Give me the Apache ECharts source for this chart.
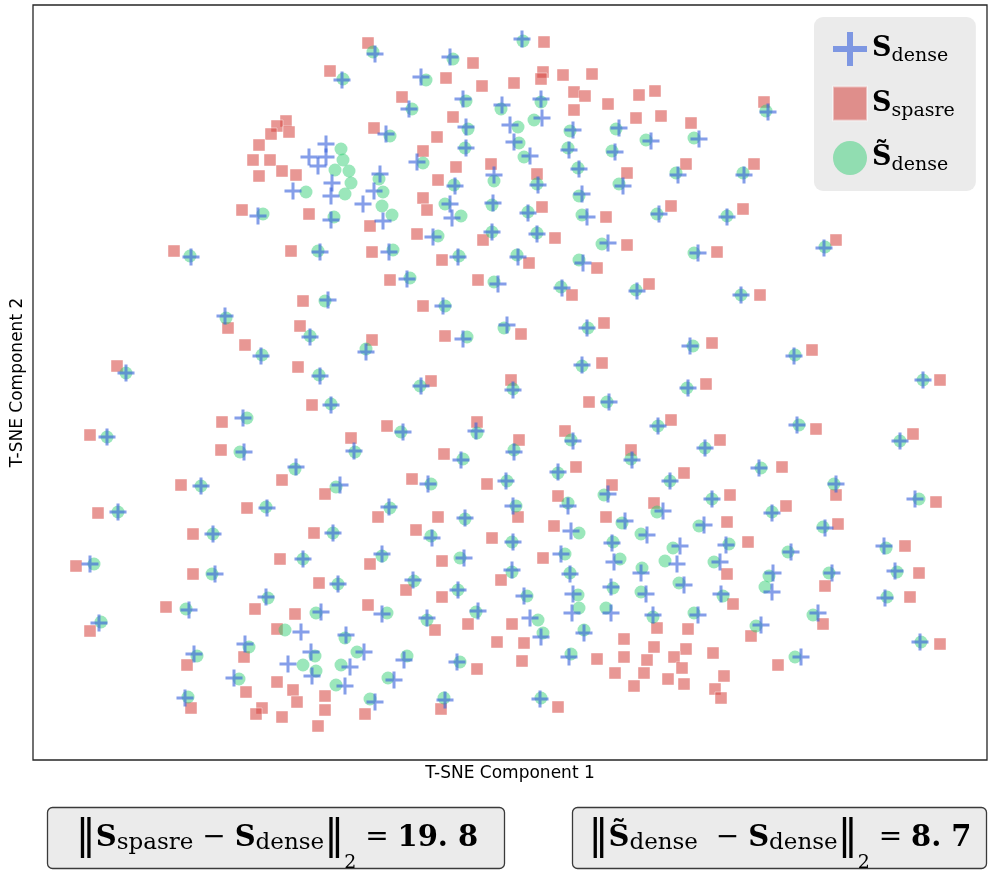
<!DOCTYPE html>
<html>
<head>
<meta charset="utf-8">
<title>T-SNE</title>
<script src="https://cdn.jsdelivr.net/npm/echarts@6/dist/echarts.min.js"></script>
<style>
  html, body { margin: 0; padding: 0; background: #fff; }
  #chart { width: 997px; height: 876px; }
</style>
</head>
<body>
<div id="chart"></div>
<script>
// t-SNE 点位 (从图上读取, x 向右, y 向下; 坐标轴没有刻度)
const sDense = [
  [342,80],[326,144],[309,157],[326,157],[318,166],[332,183],[293,191],[331,196],[258,216],[331,220],[320,252],[191,257],
  [375,54],[522,39],[450,57],[421,77],[409,109],[463,99],[502,105],[541,99],[466,127],[510,125],[542,118],[386,134],[573,130],[619,128],[651,141],[466,148],[514,142],[530,156],[569,150],[615,152],[417,162],[494,175],[579,169],[623,186],[538,185],[455,186],[380,174],[374,191],[363,204],[383,221],[582,194],[450,204],[452,218],[493,203],[528,213],[587,217],[659,214],[433,237],[492,232],[537,234],[608,243],[389,252],[458,257],[518,257],[583,263],
  [768,112],[699,139],[678,175],[744,175],[727,217],[824,248],[698,253],
  [328,300],[225,316],[310,337],[261,356],[126,373],[320,376],[331,405],[243,418],[107,437],[244,452],[354,451],[296,467],[201,486],[340,485],[267,508],[118,512],
  [407,279],[498,284],[562,288],[637,291],[443,306],[587,328],[507,325],[463,339],[366,352],[582,365],[421,386],[513,390],[609,402],[403,432],[476,431],[573,441],[658,426],[514,452],[461,460],[632,460],[558,472],[428,484],[506,481],[608,494],[568,506],[389,507],[513,506],[663,511],
  [741,295],[690,346],[794,356],[688,388],[923,380],[797,425],[900,441],[705,448],[759,468],[670,481],[836,484],[712,499],[915,499],[772,513],
  [213,534],[333,533],[90,564],[303,559],[215,574],[338,584],[266,597],[189,610],[321,612],[99,623],[301,632],[346,635],[245,644],[194,654],[311,652],[288,664],[312,676],[350,667],[234,678],[345,686],[185,698],
  [465,518],[625,521],[432,538],[513,542],[571,531],[647,535],[382,554],[464,558],[561,554],[612,543],[614,562],[512,570],[570,574],[641,573],[413,580],[458,590],[524,596],[573,594],[611,587],[646,594],[382,614],[427,618],[478,611],[530,618],[572,613],[611,613],[653,615],[541,637],[584,633],[569,657],[364,652],[404,660],[457,662],[394,680],[375,702],[445,700],[540,699],
  [704,525],[825,528],[726,545],[680,546],[791,552],[884,546],[677,564],[720,562],[773,573],[832,573],[895,571],[684,585],[772,592],[721,594],[885,598],[698,615],[761,625],[818,613],[920,642],[801,657]
]

const sSparse = [
  [330,71],[286,121],[277,126],[271,134],[289,132],[259,145],[253,160],[270,160],[282,171],[259,176],[296,175],[242,210],[309,214],[174,251],[291,251],
  [368,43],[544,42],[473,63],[446,78],[482,86],[514,83],[543,72],[541,79],[563,75],[592,74],[402,97],[574,92],[585,96],[574,110],[608,104],[639,95],[655,91],[661,116],[636,118],[453,117],[374,128],[437,137],[423,151],[456,167],[491,164],[627,173],[537,174],[438,180],[370,226],[423,198],[427,210],[542,207],[606,217],[671,206],[417,234],[483,240],[555,238],[627,245],[372,252],[442,260],[529,263],
  [764,102],[691,123],[686,164],[754,164],[743,209],[836,240],[717,252],
  [303,301],[228,328],[300,326],[245,345],[117,366],[298,367],[312,405],[222,422],[90,435],[221,450],[282,480],[181,485],[325,494],[247,508],[98,513],
  [597,268],[390,280],[478,280],[572,295],[649,284],[423,306],[604,323],[521,334],[445,336],[372,340],[602,363],[431,381],[511,380],[589,402],[387,426],[477,422],[565,431],[671,420],[351,438],[519,440],[444,454],[631,450],[576,467],[412,479],[487,484],[612,485],[558,496],[654,503],
  [760,295],[712,343],[812,350],[706,384],[940,380],[816,429],[913,434],[720,440],[782,467],[684,473],[836,495],[730,495],[936,502],[786,506],
  [193,534],[314,533],[76,566],[280,559],[193,574],[319,583],[166,607],[255,609],[295,614],[90,631],[277,629],[244,657],[187,665],[277,682],[293,690],[297,702],[325,696],[325,710],[318,726],[246,692],[191,708],[262,708],[256,714],[282,717],
  [378,517],[438,517],[518,517],[606,517],[416,530],[492,538],[554,526],[370,564],[442,561],[543,558],[501,580],[406,590],[442,597],[368,605],[435,630],[468,624],[512,624],[657,628],[497,642],[524,643],[522,661],[624,639],[654,647],[624,657],[597,659],[647,660],[615,673],[644,673],[634,686],[668,679],[477,669],[365,714],[441,709],[558,707],
  [727,522],[838,524],[748,542],[905,546],[727,574],[825,586],[919,573],[733,604],[910,597],[688,629],[751,636],[823,624],[940,644],[778,665],[686,649],[674,657],[682,668],[684,684],[713,653],[724,676],[715,689],[721,698]
]

const sDenseTilde = [
  [343,79],[341,149],[343,160],[335,170],[349,171],[351,183],[345,194],[306,192],[263,214],[334,217],[318,251],[190,256],
  [373,52],[523,41],[453,59],[426,80],[412,109],[466,101],[501,109],[541,102],[468,129],[518,127],[534,120],[390,136],[570,131],[616,129],[646,140],[465,148],[519,143],[524,157],[568,148],[612,151],[423,163],[494,181],[578,168],[619,184],[537,184],[454,185],[379,179],[383,192],[382,206],[392,215],[579,196],[445,204],[461,216],[492,205],[528,212],[582,215],[657,214],[438,236],[492,232],[537,233],[602,244],[393,250],[459,256],[517,255],[579,260],
  [766,111],[694,138],[676,173],[743,173],[727,216],[825,247],[694,253],
  [325,301],[226,318],[310,336],[262,355],[126,373],[319,375],[331,404],[247,418],[107,437],[240,452],[355,452],[295,469],[201,486],[336,487],[266,507],[118,512],
  [410,278],[494,282],[561,287],[636,290],[445,306],[588,328],[504,328],[467,337],[366,349],[582,366],[420,386],[513,389],[607,402],[401,432],[477,433],[571,440],[658,426],[514,450],[463,459],[631,459],[558,473],[431,484],[507,481],[604,495],[568,503],[390,508],[516,506],[657,512],
  [741,295],[693,346],[795,355],[687,388],[923,380],[799,425],[900,441],[705,448],[761,468],[670,481],[834,484],[712,499],[919,499],[772,512],
  [213,534],[333,533],[94,564],[303,559],[212,574],[338,584],[268,598],[186,609],[316,613],[101,622],[285,630],[345,638],[249,647],[197,656],[315,656],[303,665],[316,671],[341,665],[239,679],[336,685],[188,697],
  [465,519],[622,523],[431,536],[512,542],[579,533],[641,534],[382,556],[460,558],[565,554],[613,542],[620,559],[665,561],[512,572],[570,573],[642,568],[414,581],[458,590],[527,596],[578,595],[613,588],[641,592],[387,613],[427,620],[476,612],[538,620],[579,608],[606,608],[653,617],[543,633],[584,630],[571,654],[357,652],[407,656],[460,662],[388,678],[370,699],[444,698],[541,698],
  [699,526],[823,527],[729,544],[673,548],[788,552],[886,548],[714,562],[769,576],[829,573],[897,572],[679,583],[765,587],[723,596],[887,597],[694,613],[756,626],[813,615],[921,642],[795,657]
]

const seriesNames = ['S_dense', 'S_spasre', 'S~_dense']
const normSparse = '19. 8'
const normTilde = '8. 7'

// '+' 形状 (两条矩形合并)
const plusPath = 'path://M7,0H10V17H7Z M0,7H17V10H0Z'

const blue = 'rgba(60,100,220,0.78)'
const red = 'rgba(214,69,65,0.7)'
const green = 'rgba(46,204,113,0.6)'

const legendText = {
  'S_dense': '{b|S}{sub|dense}',
  'S_spasre': '{b|S}{sub|spasre}',
  'S~_dense': '{b|S\u0303}{sub|dense}'
}

// 下方两个范数框的富文本 (height 控制下标的下沉量)
const boxRich = {
  bar: { fontFamily: 'DejaVu Sans', fontSize: 40, lineHeight: 80, fill: '#000' },
  b: { fontFamily: 'DejaVu Serif', fontWeight: 'bold', fontSize: 29, lineHeight: 40, fill: '#000' },
  sub: { fontFamily: 'DejaVu Serif', fontSize: 23, height: 70, lineHeight: 70, verticalAlign: 'bottom', fill: '#000' },
  op: { fontFamily: 'DejaVu Serif', fontSize: 28, lineHeight: 40, fill: '#000' },
  two: { fontFamily: 'DejaVu Serif', fontSize: 19, height: 30, lineHeight: 30, verticalAlign: 'bottom', fill: '#000' },
  num: { fontFamily: 'DejaVu Serif', fontWeight: 'bold', fontSize: 29, lineHeight: 40, fill: '#000' }
}

const chart = echarts.init(document.getElementById('chart'), null, { renderer: 'canvas' })

const option = {
  animation: false,
  backgroundColor: '#fff',
  grid: {
    left: 33, top: 5, width: 954, height: 755,
    show: true, borderColor: '#262626', borderWidth: 1.3, backgroundColor: '#fff'
  },
  xAxis: {
    type: 'value', min: 33, max: 987,
    axisLine: { show: false }, axisTick: { show: false }, axisLabel: { show: false }, splitLine: { show: false },
    name: 'T-SNE Component 1', nameLocation: 'middle', nameGap: 5,
    nameTextStyle: { fontFamily: 'DejaVu Sans', fontSize: 17, color: '#000' }
  },
  yAxis: {
    type: 'value', min: 5, max: 760, inverse: true,
    axisLine: { show: false }, axisTick: { show: false }, axisLabel: { show: false }, splitLine: { show: false },
    name: 'T-SNE Component 2', nameLocation: 'middle', nameGap: 7, nameRotate: 90,
    nameTextStyle: { fontFamily: 'DejaVu Sans', fontSize: 17, color: '#000' }
  },
  legend: {
    orient: 'vertical',
    left: 814, top: 17,
    padding: [15, 21, 16, 18],
    itemGap: 19.5,
    itemWidth: 34, itemHeight: 34,
    backgroundColor: '#ebebeb',
    borderRadius: 9,
    selectedMode: false,
    data: [
      { name: seriesNames[0], icon: plusPath },
      { name: seriesNames[1], icon: 'rect' },
      { name: seriesNames[2], icon: 'circle' }
    ],
    formatter: name => legendText[name],
    textStyle: {
      rich: {
        b: { fontFamily: 'DejaVu Serif', fontWeight: 'bold', fontSize: 27, lineHeight: 34, color: '#000' },
        sub: { fontFamily: 'DejaVu Serif', fontSize: 19, lineHeight: 24, verticalAlign: 'bottom', color: '#000' }
      }
    }
  },
  series: [
    {
      name: seriesNames[1], type: 'scatter', data: sSparse,
      symbol: 'rect', symbolSize: 12,
      itemStyle: { color: red, borderColor: 'rgba(255,255,255,0.55)', borderWidth: 1 },
      z: 2
    },
    {
      name: seriesNames[2], type: 'scatter', data: sDenseTilde,
      symbol: 'circle', symbolSize: 13,
      itemStyle: { color: green },
      z: 3
    },
    {
      name: seriesNames[0], type: 'scatter', data: sDense,
      symbol: plusPath, symbolSize: 17,
      itemStyle: { color: blue },
      z: 4
    }
  ],
  graphic: [
    {
      type: 'rect',
      shape: { x: 47.5, y: 807.5, width: 457, height: 61, r: 5 },
      style: { fill: '#ebebeb', stroke: '#3a3a3a', lineWidth: 1.3 }
    },
    {
      type: 'text', x: 277, y: 838,
      style: {
        text: '{bar|\u2016}{b|S}{sub|spasre}{op| \u2212 }{b|S}{sub|dense}{bar|\u2016}{two|2}{op| = }{num|' + normSparse + '}',
        align: 'center', verticalAlign: 'middle', rich: boxRich
      }
    },
    {
      type: 'rect',
      shape: { x: 572.5, y: 807.5, width: 414, height: 61, r: 5 },
      style: { fill: '#ebebeb', stroke: '#3a3a3a', lineWidth: 1.3 }
    },
    {
      type: 'text', x: 780, y: 838,
      style: {
        text: '{bar|\u2016}{b|S\u0303}{sub|dense}{op|  \u2212 }{b|S}{sub|dense}{bar|\u2016}{two|2}{op| = }{num|' + normTilde + '}',
        align: 'center', verticalAlign: 'middle', rich: boxRich
      }
    }
  ]
}

chart.setOption(option)
</script>
</body>
</html>
